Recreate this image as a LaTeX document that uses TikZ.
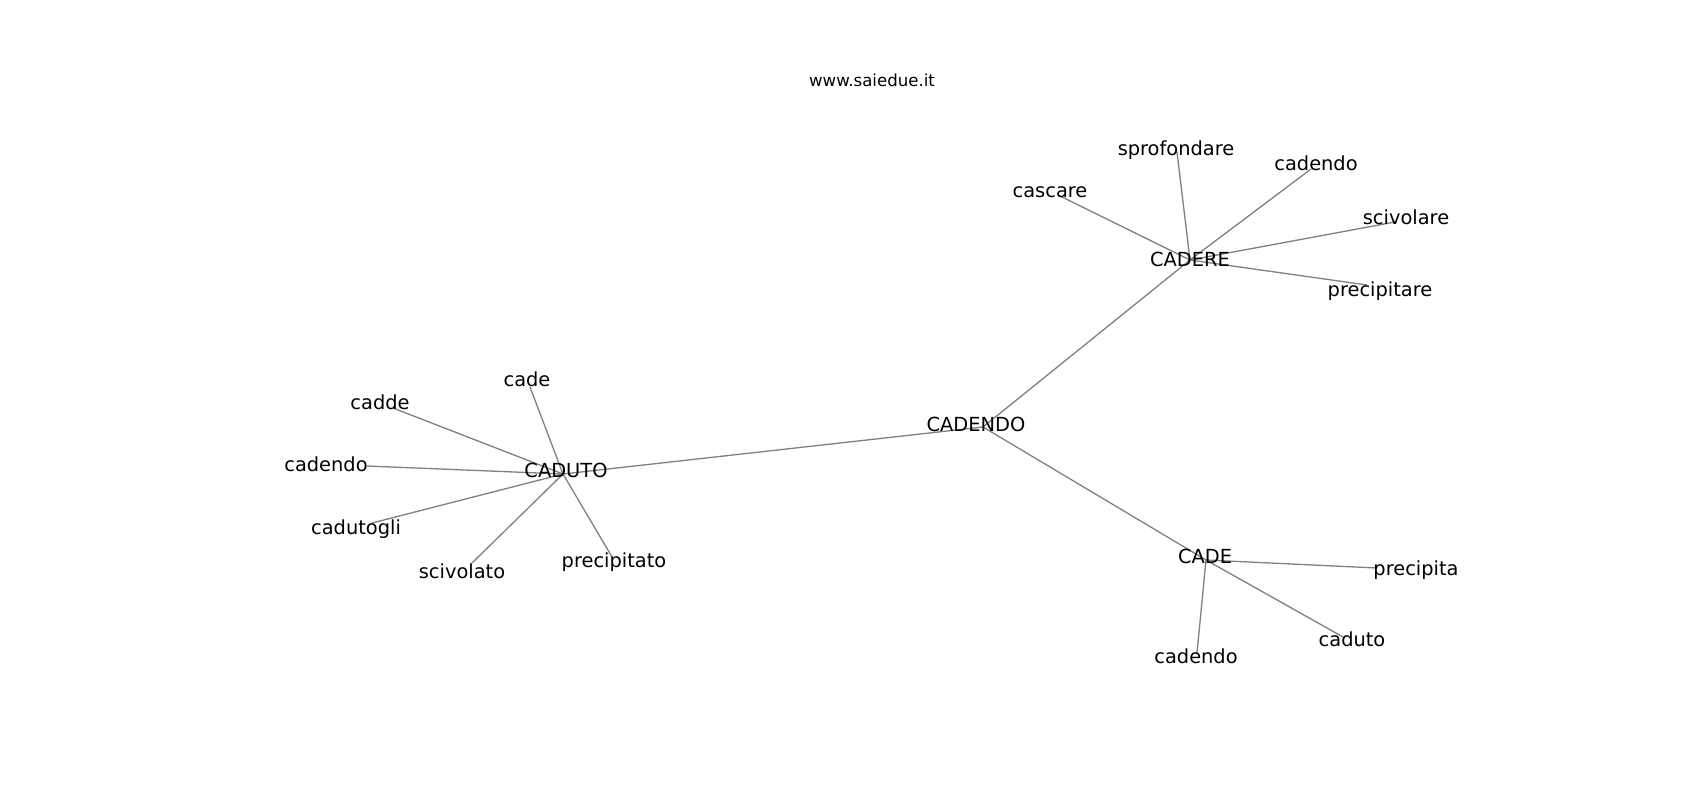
\documentclass[tikz,border=0pt]{standalone}
\usepackage{fontspec}
\setmainfont{DejaVu Sans}
\definecolor{edgegray}{RGB}{128,128,128}
\begin{document}
\begin{tikzpicture}[x=1pt,y=-1pt,
  lbl/.style={anchor=base,inner sep=0pt,font=\fontsize{19.4}{22}\selectfont,text=black},
  ttl/.style={anchor=base,inner sep=0pt,font=\fontsize{16.6}{19}\selectfont,text=black},
  edge/.style={draw=edgegray,line width=1.3pt}]
\useasboundingbox[fill=white] (0,0) rectangle (1700,800);
% edge end points (graph node positions)
\coordinate (p-cadendoC) at (983,427);
\coordinate (p-cadere) at (1190,260);
\coordinate (p-caduto) at (563,474);
\coordinate (p-cade) at (1206,560);
\coordinate (p-sprof) at (1177,152);
\coordinate (p-cadendoT) at (1311,169);
\coordinate (p-cascare) at (1058,195);
\coordinate (p-scivolare) at (1395,222);
\coordinate (p-precipitare) at (1367,285);
\coordinate (p-cadeL) at (530,387);
\coordinate (p-cadde) at (393,408);
\coordinate (p-cadendoL) at (367,466);
\coordinate (p-cadutogli) at (372,523);
\coordinate (p-scivolato) at (472,563);
\coordinate (p-precipitato) at (612,557);
\coordinate (p-precipita) at (1377,568);
\coordinate (p-cadutoB) at (1343,637);
\coordinate (p-cadendoB) at (1197,653);
% edges
\draw[edge] (p-cadendoC) -- (p-cadere);
\draw[edge] (p-cadendoC) -- (p-caduto);
\draw[edge] (p-cadendoC) -- (p-cade);
\draw[edge] (p-cadere) -- (p-sprof);
\draw[edge] (p-cadere) -- (p-cadendoT);
\draw[edge] (p-cadere) -- (p-cascare);
\draw[edge] (p-cadere) -- (p-scivolare);
\draw[edge] (p-cadere) -- (p-precipitare);
\draw[edge] (p-caduto) -- (p-cadeL);
\draw[edge] (p-caduto) -- (p-cadde);
\draw[edge] (p-caduto) -- (p-cadendoL);
\draw[edge] (p-caduto) -- (p-cadutogli);
\draw[edge] (p-caduto) -- (p-scivolato);
\draw[edge] (p-caduto) -- (p-precipitato);
\draw[edge] (p-cade) -- (p-precipita);
\draw[edge] (p-cade) -- (p-cadutoB);
\draw[edge] (p-cade) -- (p-cadendoB);
% labels
\node[ttl] (title) at (872,87) {www.saiedue.it};
\node[lbl] (CADENDO) at (976,431) {CADENDO};
\node[lbl] (CADERE) at (1190,266) {CADERE};
\node[lbl] (sprofondare) at (1176,155) {sprofondare};
\node[lbl] (cadendoT) at (1316,170) {cadendo};
\node[lbl] (cascare) at (1050,197) {cascare};
\node[lbl] (scivolare) at (1406,224) {scivolare};
\node[lbl] (precipitare) at (1380,296) {precipitare};
\node[lbl] (CADUTO) at (566,477) {CADUTO};
\node[lbl] (cade) at (527,386) {cade};
\node[lbl] (cadde) at (380,409) {cadde};
\node[lbl] (cadendoL) at (326,471) {cadendo};
\node[lbl] (cadutogli) at (356,534) {cadutogli};
\node[lbl] (scivolato) at (462,578) {scivolato};
\node[lbl] (precipitato) at (614,567) {precipitato};
\node[lbl] (CADE) at (1205,563) {CADE};
\node[lbl] (precipita) at (1416,575) {precipita};
\node[lbl] (caduto) at (1352,646) {caduto};
\node[lbl] (cadendoB) at (1196,663) {cadendo};
\end{tikzpicture}
\end{document}
